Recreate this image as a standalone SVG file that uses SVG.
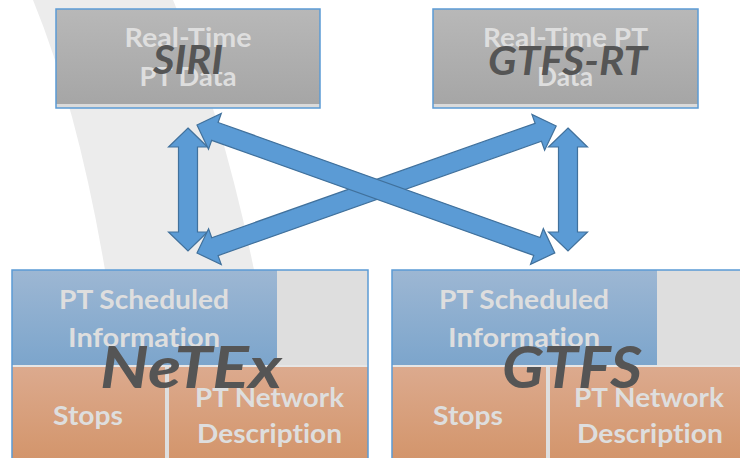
<svg xmlns="http://www.w3.org/2000/svg" width="740" height="458" viewBox="0 0 740 458">
<defs>
<linearGradient id="gGray" x1="0" y1="0" x2="0" y2="1"><stop offset="0" stop-color="#b8b8b8"/><stop offset="1" stop-color="#a5a5a5"/></linearGradient>
<linearGradient id="gBlue" x1="0" y1="0" x2="0" y2="1"><stop offset="0" stop-color="#9db7d3"/><stop offset="1" stop-color="#7ca5cc"/></linearGradient>
<linearGradient id="gOrange" x1="0" y1="0" x2="0" y2="1"><stop offset="0" stop-color="#dcaa8e"/><stop offset="1" stop-color="#d3956b"/></linearGradient>
<style>
.lt{font-family:Lato,"Open Sans","Liberation Sans",sans-serif;font-weight:bold;font-size:26px;fill:#dedede;text-anchor:middle;font-variant-ligatures:none}
.big{font-family:Lato,"Open Sans","Liberation Sans",sans-serif;font-weight:bold;font-style:italic;fill:#555555;text-anchor:middle;font-variant-ligatures:none}
.arr{fill:#5b9bd5;stroke:#41719c;stroke-width:1.2;stroke-linejoin:miter}
.frame{fill:none;stroke:#5b9bd5;stroke-width:1.5}
</style>
</defs>
<rect width="740" height="458" fill="#ffffff"/>
<path d="M33,0 L173,0 Q225,120 258,290 L258,458 L110,458 L105,270 Q78,110 33,0 Z" fill="#ececec"/>

<g id="siri">
<rect x="56" y="9" width="264" height="99" fill="url(#gGray)"/>
<rect x="56" y="104" width="264" height="4" fill="#dadada"/>
<rect x="56" y="9" width="264" height="99" class="frame"/>
<text class="lt" x="188" y="47" textLength="127" lengthAdjust="spacingAndGlyphs">Real-Time</text>
<text class="lt" x="188" y="86" textLength="97" lengthAdjust="spacingAndGlyphs">PT Data</text>
<text class="big" x="188" y="74" font-size="40" textLength="70" lengthAdjust="spacingAndGlyphs">SIRI</text>
</g>

<g id="gtfsrt">
<rect x="433" y="9" width="265" height="99" fill="url(#gGray)"/>
<rect x="433" y="104" width="265" height="4" fill="#dadada"/>
<rect x="433" y="9" width="265" height="99" class="frame"/>
<text class="lt" x="565.5" y="47" textLength="165" lengthAdjust="spacingAndGlyphs">Real-Time PT</text>
<text class="lt" x="565" y="86" textLength="56" lengthAdjust="spacingAndGlyphs">Data</text>
<text class="big" x="567.5" y="75" font-size="40" textLength="159" lengthAdjust="spacingAndGlyphs">GTFS-RT</text>
</g>

<g id="connectors">
<path class="arr" d="M188,128 L207.5,147 L197.5,147 L197.5,232 L207.5,232 L188,251 L168.5,232 L178.5,232 L178.5,147 L168.5,147 Z"/>
<path class="arr" d="M568,128 L587.5,147 L577.5,147 L577.5,232 L587.5,232 L568,251 L548.5,232 L558.5,232 L558.5,147 L548.5,147 Z"/>
<path class="arr" transform="translate(197,253) rotate(-19.48)" d="M0,0 L19,-19 L19,-9.5 L362,-9.5 L362,-19 L381,0 L362,19 L362,9.5 L19,9.5 L19,19 Z"/>
<path class="arr" transform="translate(197,125) rotate(19.67)" d="M0,0 L19,-19 L19,-9.5 L361,-9.5 L361,-19 L380,0 L361,19 L361,9.5 L19,9.5 L19,19 Z"/>
</g>

<g id="netex">
<rect x="12" y="270" width="356" height="190" fill="#dedede"/>
<rect x="12" y="270" width="265" height="95" fill="url(#gBlue)"/>
<rect x="12" y="365" width="356" height="2" fill="#e6e6e6"/>
<rect x="12" y="367" width="153" height="93" fill="url(#gOrange)"/>
<rect x="169" y="367" width="199" height="93" fill="url(#gOrange)"/>
<rect x="12" y="270" width="356" height="190" class="frame"/>
<text class="lt" x="144" y="309" textLength="170" lengthAdjust="spacingAndGlyphs">PT Scheduled</text>
<text class="lt" x="144" y="347" textLength="152" lengthAdjust="spacingAndGlyphs">Information</text>
<text class="lt" x="88" y="425" textLength="70" lengthAdjust="spacingAndGlyphs">Stops</text>
<text class="lt" x="269.5" y="407" textLength="149" lengthAdjust="spacingAndGlyphs">PT Network</text>
<text class="lt" x="269.5" y="443" textLength="145" lengthAdjust="spacingAndGlyphs">Description</text>
<text class="big" x="191" y="388" font-size="58" textLength="182" lengthAdjust="spacingAndGlyphs">NeTEx</text>
</g>

<g id="gtfs">
<rect x="392" y="270" width="350" height="190" fill="#dedede"/>
<rect x="392" y="270" width="265" height="95" fill="url(#gBlue)"/>
<rect x="392" y="365" width="350" height="2" fill="#e6e6e6"/>
<rect x="392" y="367" width="154" height="93" fill="url(#gOrange)"/>
<rect x="550" y="367" width="192" height="93" fill="url(#gOrange)"/>
<rect x="392" y="270" width="350" height="190" class="frame"/>
<text class="lt" x="524" y="309" textLength="170" lengthAdjust="spacingAndGlyphs">PT Scheduled</text>
<text class="lt" x="524" y="347" textLength="152" lengthAdjust="spacingAndGlyphs">Information</text>
<text class="lt" x="468" y="425" textLength="70" lengthAdjust="spacingAndGlyphs">Stops</text>
<text class="lt" x="649" y="407" textLength="150" lengthAdjust="spacingAndGlyphs">PT Network</text>
<text class="lt" x="650" y="443" textLength="146" lengthAdjust="spacingAndGlyphs">Description</text>
<text class="big" x="572" y="388" font-size="58" textLength="140" lengthAdjust="spacingAndGlyphs">GTFS</text>
</g>
</svg>
